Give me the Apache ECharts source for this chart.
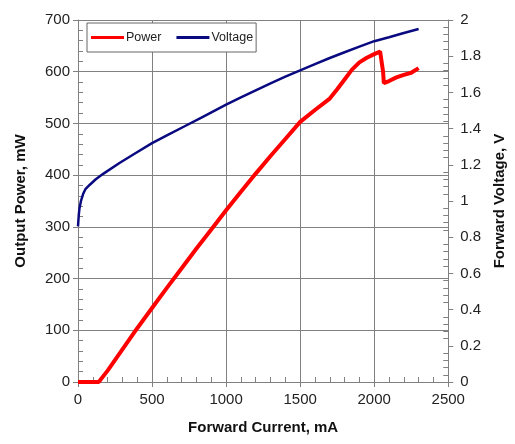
<!DOCTYPE html>
<html><head><meta charset="utf-8">
<script src="https://cdn.jsdelivr.net/npm/echarts@6/dist/echarts.min.js"></script>
<style>html,body{margin:0;padding:0;background:#fff}#c{width:515px;height:444px}</style>
</head><body><div id="c"></div>
<script>
// Forward current (mA) and output power (mW)
const powerCurrent = [0,140,150,200,300,400,500,600,700,800,900,1000,1100,1200,1300,1400,1500,1600,1700,1750,1800,1850,1900,1950,2000,2040,2050,2060,2065,2100,2150,2200,2250,2300];
const powerValues  = [0,0,2,22,63,104,143,182,220,258,295,332,368,403,437,470,503,526,548,566,585,604,618,627,634,639,637,600,578,582,589,594,598,607];
// Forward current (mA) and forward voltage (V)
const voltCurrent = [0,5,10,20,35,50,80,120,170,280,390,500,610,720,840,1000,1100,1200,1300,1400,1500,1600,1700,1800,1900,2000,2100,2200,2300];
const voltValues  = [0.86,0.92,0.96,1.0,1.04,1.065,1.09,1.12,1.15,1.21,1.265,1.32,1.367,1.413,1.464,1.532,1.572,1.611,1.65,1.687,1.722,1.756,1.79,1.822,1.853,1.883,1.905,1.928,1.95];
const seriesNames = ['Power','Voltage'];
const xTitle = 'Forward Current, mA';
const yLeftTitle = 'Output Power, mW';
const yRightTitle = 'Forward Voltage, V';

const chart = echarts.init(document.getElementById('c'), null, {renderer:'canvas'});
const font = 'Liberation Sans, Arial, sans-serif';
const axisCol = '#808080';
const lab = {color:'#222', fontSize:15, fontFamily:font};
const nameSty = {color:'#111', fontSize:15, fontWeight:'bold', fontFamily:font};
chart.setOption({
  animation:false,
  grid:{left:78, right:62, top:20, bottom:62},
  legend:{
    left:87, top:23, orient:'horizontal', itemGap:15, itemWidth:33, itemHeight:3, icon:'rect',
    backgroundColor:'#fff', borderColor:'#666', borderWidth:1, padding:[8,3,8,4],
    textStyle:{fontSize:12.5, fontFamily:font, color:'#222', padding:[0,0,0,-3]},
    data:seriesNames
  },
  xAxis:{
    type:'value', min:0, max:2500, interval:500,
    name:xTitle, nameLocation:'middle', nameGap:38, nameTextStyle:nameSty,
    axisLine:{show:true, onZero:false, lineStyle:{color:axisCol}},
    axisTick:{show:true, inside:false, length:5, lineStyle:{color:axisCol}},
    minorTick:{show:true, splitNumber:5, length:-5, lineStyle:{color:axisCol}},
    axisLabel:Object.assign({margin:10, formatter:v=>String(v)}, lab),
    splitLine:{show:true, lineStyle:{color:axisCol, width:1}}
  },
  yAxis:[{
    type:'value', min:0, max:700, interval:100, position:'left',
    name:yLeftTitle, nameLocation:'middle', nameGap:50, nameRotate:90, nameTextStyle:nameSty,
    axisLine:{show:true, lineStyle:{color:axisCol}},
    axisTick:{show:true, inside:false, length:5, lineStyle:{color:axisCol}},
    minorTick:{show:true, splitNumber:5, length:-5, lineStyle:{color:axisCol}},
    axisLabel:Object.assign({margin:8, formatter:v=>String(v)}, lab),
    splitLine:{show:true, lineStyle:{color:axisCol, width:1}}
  },{
    type:'value', min:0, max:2, interval:0.2, position:'right',
    name:yRightTitle, nameLocation:'middle', nameGap:40, nameRotate:90, nameTextStyle:nameSty,
    axisLine:{show:true, lineStyle:{color:axisCol}},
    axisTick:{show:true, inside:false, length:5, lineStyle:{color:axisCol}},
    minorTick:{show:true, splitNumber:5, length:-5, lineStyle:{color:axisCol}},
    axisLabel:Object.assign({margin:12}, lab),
    splitLine:{show:false}
  }],
  series:[{
    name:seriesNames[0], type:'line', yAxisIndex:0, symbol:'none', smooth:false,
    lineStyle:{color:'#ff0000', width:4}, itemStyle:{color:'#ff0000'},
    data:powerCurrent.map((x,i)=>[x,powerValues[i]]), z:3
  },{
    name:seriesNames[1], type:'line', yAxisIndex:1, symbol:'none', smooth:false,
    lineStyle:{color:'#0a0a80', width:2.5}, itemStyle:{color:'#0a0a80'},
    data:voltCurrent.map((x,i)=>[x,voltValues[i]]), z:2
  }]
});
</script></body></html>
